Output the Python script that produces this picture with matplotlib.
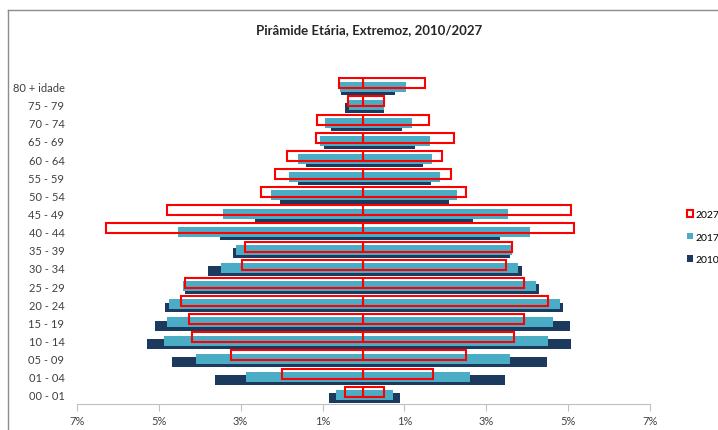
import numpy as np
import matplotlib
matplotlib.use("Agg")
import matplotlib.pyplot as plt
from matplotlib.patches import Patch
from matplotlib.lines import Line2D

# Age groups (bottom to top)
groups = ["00 - 01", "01 - 04", "05 - 09", "10 - 14", "15 - 19", "20 - 24",
          "25 - 29", "30 - 34", "35 - 39", "40 - 44", "45 - 49", "50 - 54",
          "55 - 59", "60 - 64", "65 - 69", "70 - 74", "75 - 79", "80 + idade"]

# left side (%)
left_2010 = [0.84, 3.63, 4.68, 5.28, 5.10, 4.85, 4.36, 3.79, 3.18, 3.51, 2.66,
             2.05, 1.59, 1.40, 0.97, 0.80, 0.45, 0.55]
left_2017 = [0.66, 2.87, 4.08, 4.87, 4.81, 4.76, 4.41, 3.48, 3.12, 4.53, 3.43,
             2.25, 1.82, 1.59, 1.07, 0.93, 0.35, 0.57]
left_2027 = [0.46, 1.98, 3.23, 4.19, 4.27, 4.46, 4.37, 2.98, 2.90, 6.30, 4.79,
             2.50, 2.17, 1.87, 1.16, 1.14, 0.38, 0.60]

# right side (%)
right_2010 = [0.89, 3.45, 4.48, 5.07, 5.05, 4.88, 4.30, 3.88, 3.58, 3.33, 2.67,
              2.10, 1.65, 1.46, 1.27, 0.93, 0.51, 0.78]
right_2017 = [0.71, 2.61, 3.59, 4.52, 4.62, 4.80, 4.21, 3.77, 3.64, 4.06, 3.54,
              2.29, 1.86, 1.67, 1.62, 1.19, 0.49, 1.05]
right_2027 = [0.50, 1.71, 2.51, 3.67, 3.91, 4.50, 3.92, 3.48, 3.62, 5.15, 5.08,
              2.50, 2.15, 1.93, 2.21, 1.61, 0.51, 1.51]

xticks = [-7, -5, -3, -1, 1, 3, 5, 7]

navy = "#1B3A5E"
teal = "#4BACC6"
red = "#FF0000"

plt.rcParams["font.family"] = ["Lato", "DejaVu Sans"]

fig = plt.figure(figsize=(7.18, 4.31), dpi=100)
ax = fig.add_axes([0.1072, 0.0603, 0.7981, 0.7577])

y = np.arange(len(groups))
h = 0.55
off = 0.18

ax.barh(y - off, [-v for v in left_2010], height=h, color=navy)
ax.barh(y - off, right_2010, height=h, color=navy)
ax.barh(y, [-v for v in left_2017], height=h, color=teal)
ax.barh(y, right_2017, height=h, color=teal)
ax.barh(y + off, [-v for v in left_2027], height=h, facecolor="none",
        edgecolor=red, linewidth=1.5)
ax.barh(y + off, right_2027, height=h, facecolor="none",
        edgecolor=red, linewidth=1.5)

ax.set_xlim(-7, 7)
ax.set_ylim(-0.5, len(groups) - 0.5)
ax.set_xticks(xticks)
ax.set_xticklabels([f"{abs(t)}%" for t in xticks], fontsize=8, color="#404040")
ax.set_yticks(y)
ax.set_yticklabels(groups, fontsize=8, color="#404040")
ax.tick_params(axis="y", length=0, pad=9)
ax.tick_params(axis="x", length=5, color="#BFBFBF", direction="out", pad=3)

for s in ["top", "right", "left"]:
    ax.spines[s].set_visible(False)
ax.spines["bottom"].set_color("#BFBFBF")

fig.text(0.514, 0.930, "Pirâmide Etária, Extremoz, 2010/2027", ha="center",
         va="center", fontsize=9.5, fontweight="bold", color="#262626")

# chart border (top and left visible)
fig.add_artist(Line2D([8 / 718, 1], [1 - 11 / 431, 1 - 11 / 431],
                      color="#8C8C8C", linewidth=1))
fig.add_artist(Line2D([8 / 718, 8 / 718], [0, 1 - 11 / 431],
                      color="#8C8C8C", linewidth=1))

handles = [Patch(facecolor="white", edgecolor=red, linewidth=1.5),
           Patch(facecolor=teal),
           Patch(facecolor=navy)]
fig.legend(handles, ["2027", "2017", "2010"], loc="center left",
           bbox_to_anchor=(0.957, 0.447), frameon=False, fontsize=7.5,
           handlelength=0.6, handleheight=0.6, handletextpad=0.2,
           labelspacing=1.3, borderpad=0, borderaxespad=0)

plt.savefig("out.png", dpi=100)
